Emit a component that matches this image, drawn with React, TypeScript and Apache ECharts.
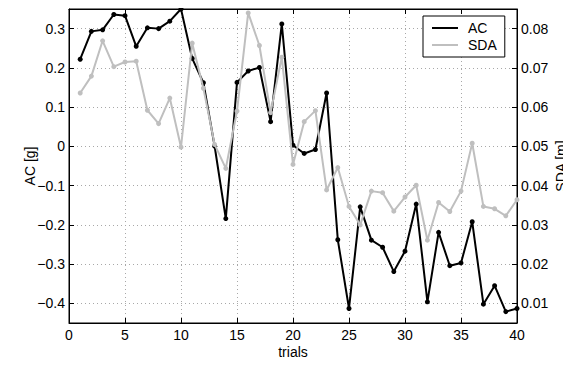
import React, { useEffect, useRef } from "react";
import * as echarts from "echarts";

const trials = Array.from({ length: 40 }, (_, i) => i + 1);
const acValues = [
  0.222, 0.293, 0.297, 0.336, 0.333, 0.255, 0.302, 0.3, 0.319, 0.35,
  0.224, 0.162, 0.001, -0.184, 0.163, 0.192, 0.201, 0.063, 0.312, 0.003,
  -0.018, -0.008, 0.136, -0.238, -0.413, -0.154, -0.239, -0.257, -0.319, -0.267,
  -0.147, -0.396, -0.219, -0.304, -0.297, -0.192, -0.402, -0.355, -0.421, -0.413,
];
const sdaValues = [
  0.0636, 0.0679, 0.0769, 0.0703, 0.0715, 0.0717, 0.0592, 0.0558, 0.0623, 0.0498,
  0.0763, 0.0648, 0.0505, 0.0444, 0.059, 0.084, 0.0757, 0.0586, 0.0727, 0.0454,
  0.0563, 0.0591, 0.0389, 0.0446, 0.0347, 0.03, 0.0386, 0.0382, 0.0335, 0.0371,
  0.0401, 0.0261, 0.0357, 0.0334, 0.0386, 0.0508, 0.0347, 0.0341, 0.0323, 0.0364,
];
const seriesNames = ["AC", "SDA"];
const axisNames = { x: "trials", left: "AC [g]", right: "SDA [m]" };

const FONT = "Liberation Sans, Arial, Helvetica, sans-serif";
const GRAY = "#bfbfbf";

export default function App() {
  const ref = useRef<HTMLDivElement>(null);
  useEffect(() => {
    if (!ref.current) return;
    const chart = echarts.init(ref.current, undefined, { renderer: "svg" });
    const gridLine = { show: true, lineStyle: { color: "#a8a8a8", type: [1, 3] as any, width: 1 } };
    const fmtLeft = (v: number) => {
      const s = Math.abs(v).toFixed(1).replace(/\.0$/, "");
      return (v < -1e-9 ? "\u2212" : "") + s;
    };
    chart.setOption({
      animation: false,
      backgroundColor: "#fff",
      textStyle: { fontFamily: FONT },
      grid: {
        left: 69, right: 54, top: 9, bottom: 42,
        containLabel: false,
        outerBoundsMode: "none",
        show: true, borderColor: "#000", borderWidth: 1, backgroundColor: "transparent",
      },
      legend: {
        data: seriesNames,
        orient: "vertical",
        left: 423, top: 16,
        padding: [5, 8, 5, 9],
        itemGap: 3,
        itemWidth: 26, itemHeight: 2,
        icon: "rect",
        backgroundColor: "#fff",
        borderColor: "#000", borderWidth: 1,
        textStyle: { fontFamily: FONT, fontSize: 14, color: "#000", padding: [0, 0, 0, 5] },
      },
      xAxis: [
        {
          type: "value", min: 0, max: 40, interval: 5,
          name: axisNames.x, nameLocation: "middle", nameGap: 22, nameMoveOverlap: false,
          nameTextStyle: { fontFamily: FONT, fontSize: 14, color: "#000" },
          axisLine: { show: true, onZero: false, lineStyle: { color: "#000", width: 1 } },
          axisTick: { show: true, inside: true, length: 5, lineStyle: { color: "#000" } },
          axisLabel: { fontFamily: FONT, fontSize: 14, color: "#000", margin: 5 },
          splitLine: gridLine,
        },
        {
          type: "value", min: 0, max: 40, interval: 5, position: "top",
          axisLine: { show: true, onZero: false, lineStyle: { color: "#000", width: 1 } },
          axisTick: { show: true, inside: true, length: 5, lineStyle: { color: "#000" } },
          axisLabel: { show: false },
          splitLine: { show: false },
        },
      ],
      yAxis: [
        {
          type: "value", min: -0.45, max: 0.35, splitNumber: 8, minInterval: 0.1, maxInterval: 0.1,
          position: "left",
          name: axisNames.left, nameLocation: "middle", nameGap: 32, nameRotate: 90, nameMoveOverlap: false,
          nameTextStyle: { fontFamily: FONT, fontSize: 14, color: "#000" },
          axisLine: { show: true, onZero: false, lineStyle: { color: "#000", width: 1 } },
          axisTick: { show: true, inside: true, length: 5, lineStyle: { color: "#000" } },
          axisLabel: {
            fontFamily: FONT, fontSize: 14, color: "#000", margin: 4,
            showMinLabel: false, showMaxLabel: false, formatter: fmtLeft,
          },
          splitLine: gridLine,
        },
        {
          type: "value", min: 0.005, max: 0.085, splitNumber: 8, minInterval: 0.01, maxInterval: 0.01,
          position: "right",
          name: axisNames.right, nameLocation: "middle", nameGap: 37, nameRotate: 90, nameMoveOverlap: false,
          nameTextStyle: { fontFamily: FONT, fontSize: 14, color: "#000" },
          axisLine: { show: true, onZero: false, lineStyle: { color: "#000", width: 1 } },
          axisTick: { show: true, inside: true, length: 5, lineStyle: { color: "#000" } },
          axisLabel: {
            fontFamily: FONT, fontSize: 14, color: "#000", margin: 4,
            showMinLabel: false, showMaxLabel: false,
            formatter: (v: number) => v.toFixed(2),
          },
          splitLine: { show: false },
        },
      ],
      series: [
        {
          name: seriesNames[0], type: "line", xAxisIndex: 0, yAxisIndex: 0,
          data: trials.map((t, i) => [t, acValues[i]]),
          symbol: "circle", symbolSize: 5,
          lineStyle: { color: "#000", width: 2 },
          itemStyle: { color: "#000" },
          z: 2,
        },
        {
          name: seriesNames[1], type: "line", xAxisIndex: 0, yAxisIndex: 1,
          data: trials.map((t, i) => [t, sdaValues[i]]),
          symbol: "circle", symbolSize: 5,
          lineStyle: { color: GRAY, width: 2 },
          itemStyle: { color: GRAY },
          z: 3,
        },
      ],
    });
    return () => chart.dispose();
  }, []);
  return <div ref={ref} style={{ width: 571, height: 365, margin: -8 }} />;
}
